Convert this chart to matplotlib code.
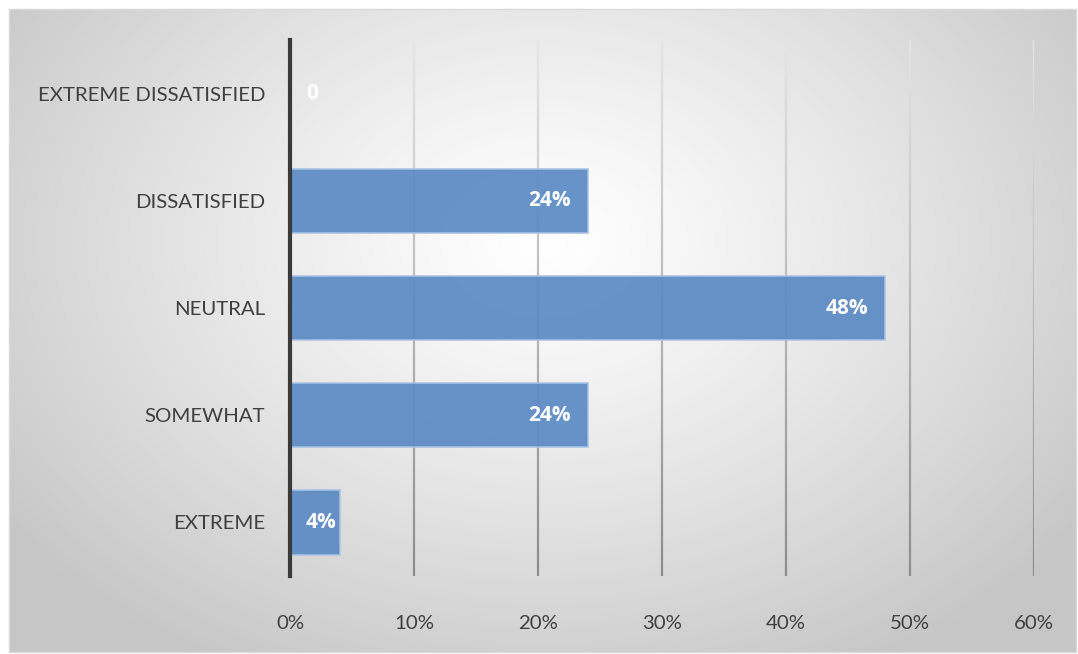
import numpy as np
import matplotlib
matplotlib.use("Agg")
import matplotlib.pyplot as plt
from matplotlib.ticker import FuncFormatter
from matplotlib.collections import LineCollection

categories = ["EXTREME", "SOMEWHAT", "NEUTRAL", "DISSATISFIED", "EXTREME DISSATISFIED"]
values = [4, 24, 48, 24, 0]
value_labels = ["4%", "24%", "48%", "24%", "0"]
x_ticks = [0, 10, 20, 30, 40, 50, 60]

plt.rcParams['font.family'] = ['Lato', 'DejaVu Sans']

W, H = 1078, 654
fig = plt.figure(figsize=(W / 100, H / 100), dpi=100)
fig.patch.set_facecolor("white")

# radial gradient backdrop for the chart area
bg = fig.add_axes([9 / W, 1 - 652 / H, (1076 - 9) / W, (652 - 9) / H])
ny, nx = 300, 500
yy, xx = np.mgrid[0:ny, 0:nx]
cx, cy = nx * 0.5, ny * 0.36
r = np.sqrt(((xx - cx) / (nx * 0.62)) ** 2 + ((yy - cy) / (ny * 0.75)) ** 2)
r = np.clip(r, 0, 1)
shade = 1.0 - 0.22 * r ** 1.2
img = np.dstack([shade, shade, shade])
bg.imshow(img, aspect="auto", extent=[0, 1, 0, 1], interpolation="bilinear")
bg.set_axis_off()
fig.patches.append(plt.Rectangle((9 / W, 1 - 652 / H), (1076 - 9) / W, (652 - 9) / H,
                                 transform=fig.transFigure, fill=False,
                                 edgecolor="#d9d9d9", linewidth=1))

ax = fig.add_axes([290 / W, 1 - 576 / H, (1034 - 290) / W, (576 - 40) / H])
ax.patch.set_alpha(0)

y = np.arange(len(categories))
ylo, yhi = -0.5, len(categories) - 0.5

# vertical gridlines shaded from light at the top to darker at the bottom
n_seg = 120
ys = np.linspace(yhi, ylo, n_seg + 1)
top_c, bot_c = 0.90, 0.55
segs, cols = [], []
for xt in x_ticks[1:]:
    for i in range(n_seg):
        segs.append([(xt, ys[i]), (xt, ys[i + 1])])
        g = top_c + (bot_c - top_c) * (i + 0.5) / n_seg
        cols.append((g, g, g))
ax.add_collection(LineCollection(segs, colors=cols, linewidths=1.6, zorder=1,
                                 capstyle="butt"))

ax.barh(y, values, height=0.6, color="#5b8ac4", edgecolor="#a8c3e6",
        linewidth=1.2, alpha=0.92, zorder=3)

ax.set_xlim(0, 60)
ax.set_ylim(ylo, yhi)

# value labels: inside the bar end, but never closer than 16 px to the axis
fig.canvas.draw()
renderer = fig.canvas.get_renderer()
x0_px = ax.transData.transform((0, 0))[0]
for yi, v, lab in zip(y, values, value_labels):
    t = ax.annotate(lab, (v, yi), xytext=(-12, 0), textcoords="offset points",
                    ha="right", va="center", color="white", fontsize=15,
                    fontweight="bold", family=["Open Sans", "DejaVu Sans"], zorder=4)
    bb = t.get_window_extent(renderer)
    if bb.x0 < x0_px + 16:
        t.xy = (0, yi)
        t.set_position((16 * 72 / 100, 0))
        t.set_ha("left")

ax.set_xticks(x_ticks)
ax.xaxis.set_major_formatter(FuncFormatter(lambda v, p: f"{int(v)}%"))
ax.set_yticks(y)
ax.set_yticklabels(categories)
for s in ["top", "right", "bottom"]:
    ax.spines[s].set_visible(False)
ax.spines["left"].set_color("#3a3a3a")
ax.spines["left"].set_linewidth(3)
ax.spines["left"].set_zorder(5)
ax.tick_params(axis="both", length=0, labelsize=14.7, labelcolor="#404040")
ax.tick_params(axis="x", pad=28)
ax.tick_params(axis="y", pad=18)

fig.savefig("out.png", dpi=100)
